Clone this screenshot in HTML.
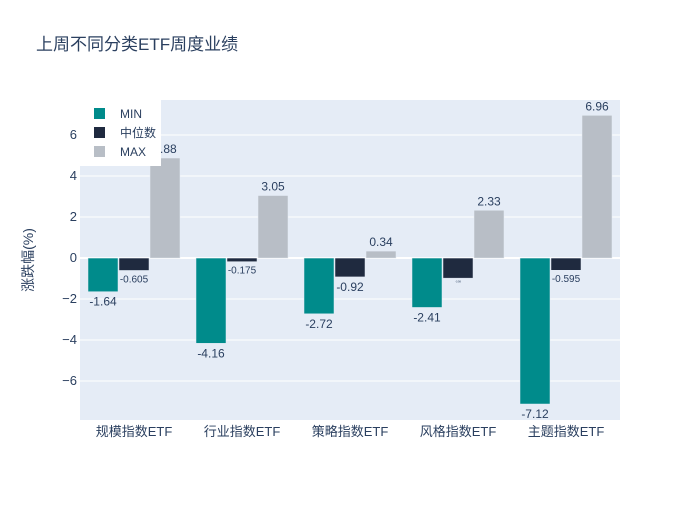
<!DOCTYPE html>
<html><head><meta charset="utf-8"><style>body{margin:0;background:#fff}svg{font-family:"Liberation Sans","Noto Sans CJK SC",sans-serif}</style></head>
<body>
<svg id="c" width="700" height="500">
<rect width="700" height="500" fill="#fff"/>
<text x="36" y="50" font-size="17" fill="#2a3f5f">上周不同分类ETF周度业绩</text>
<rect x="80" y="100" width="540" height="320" fill="#e5ecf6"/>
<g id="grid"></g><g id="bars"></g><g id="labels"></g>
<text transform="translate(33,260) rotate(-90)" text-anchor="middle" font-size="14" fill="#2a3f5f">涨跌幅(%)</text>
<g>
<rect x="80" y="100" width="81" height="66" fill="#fff"/>
<rect x="94" y="108" width="11" height="11" fill="#008b8b"/>
<text x="120" y="118" font-size="12" fill="#2a3f5f">MIN</text>
<rect x="94" y="127" width="11" height="11" fill="#1f2a3f"/>
<text x="120" y="137" font-size="12" fill="#2a3f5f">中位数</text>
<rect x="94" y="146" width="11" height="11" fill="#b8bec6"/>
<text x="120" y="156" font-size="12" fill="#2a3f5f">MAX</text>
</g>
</svg>
<script>
const categories=["规模指数ETF","行业指数ETF","策略指数ETF","风格指数ETF","主题指数ETF"];
const minVals=[-1.64,-4.16,-2.72,-2.41,-7.12];
const medVals=[-0.605,-0.175,-0.92,-0.98,-0.595];
const maxVals=[4.88,3.05,0.34,2.33,6.96];
const medLabels=["-0.605","-0.175","-0.92","-0.98","-0.595"];
const medLabelSizes=[10,10,12,2.5,10];
const yTicks=[-6,-4,-2,0,2,4,6];
const yTickLabels=["−6","−4","−2","0","2","4","6"];
const NS="http://www.w3.org/2000/svg";
const x0=80,x1=620,yTop=100,yBot=420,vMax=7.71,vMin=-7.9;
const y=v=>yTop+(vMax-v)/(vMax-vMin)*(yBot-yTop);
const bw=(x1-x0)/categories.length;
const xc=i=>x0+bw*(i+0.5);
function mk(tag,attrs,parent){const e=document.createElementNS(NS,tag);for(const k in attrs)e.setAttribute(k,attrs[k]);document.getElementById(parent).appendChild(e);return e;}
yTicks.forEach((t,i)=>{
  const l=mk("line",{x1:x0,x2:x1,y1:y(t),y2:y(t),stroke:"#fff","stroke-width":t===0?2:1},"grid");
  
  
  const tx=mk("text",{x:x0-3,y:y(t)+4,"text-anchor":"end","font-size":13,fill:"#2a3f5f"},"grid");
  tx.textContent=yTickLabels[i];
  
  
});
categories.forEach((c,i)=>{
  const tx=mk("text",{x:xc(i),y:436,"text-anchor":"middle","font-size":13,fill:"#2a3f5f"},"grid");
  tx.textContent=c;
  
  
});
const series=[[minVals,"#008b8b",-1,null,null],[medVals,"#1f2a3f",0,medLabelSizes,medLabels],[maxVals,"#b8bec6",1,null,null]];
const w=30,step=31;
series.forEach(([vals,col,off,sizes,lbl])=>{
  vals.forEach((v,i)=>{
    const cx=xc(i)+off*step;
    const fs=sizes?sizes[i]:12;
    const top=Math.min(y(v),y(0)),h=Math.abs(y(v)-y(0));
    const r=mk("rect",{x:cx-w/2,y:top,width:w,height:h,fill:col,stroke:"#e5ecf6","stroke-width":0.5},"bars");
    
    
    const t=mk("text",{x:cx,y:v>=0?y(v)-5:y(v)+fs+2,"text-anchor":"middle","font-size":fs,fill:"#2a3f5f"},"labels");
    t.textContent=lbl?lbl[i]:v.toFixed(2);
    
    
  });
});
</script>
</body></html>
